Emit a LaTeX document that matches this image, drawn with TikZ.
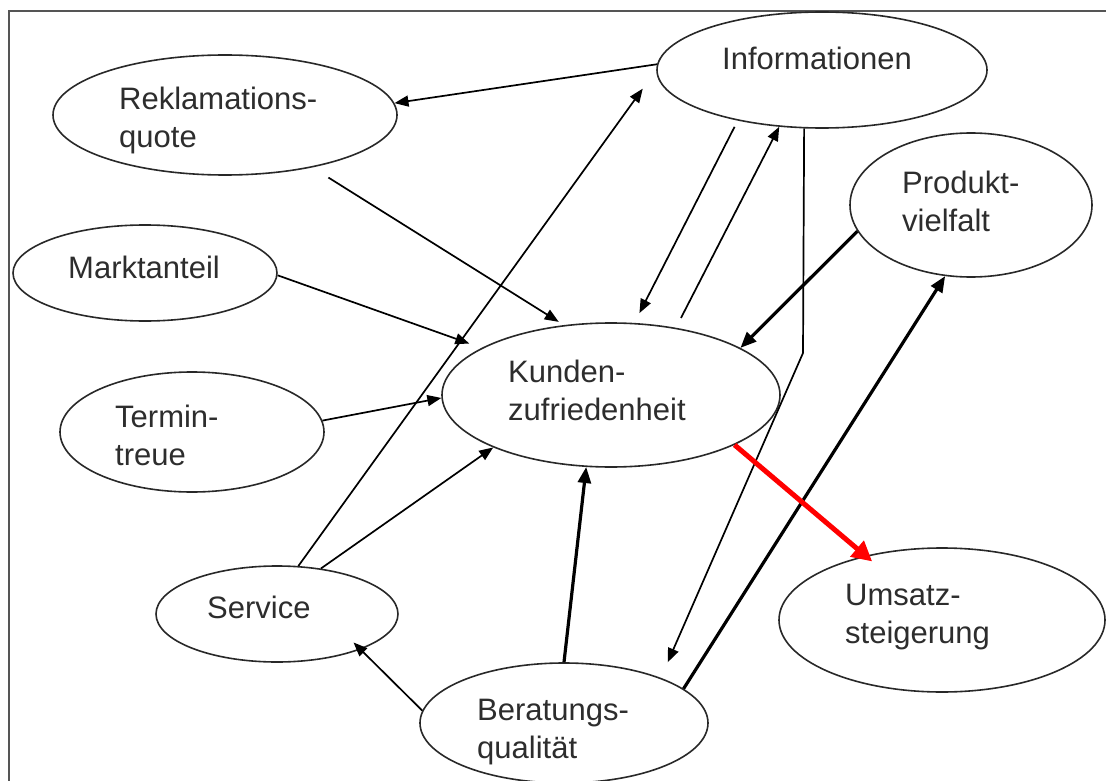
\documentclass[tikz,border=0pt]{standalone}
\usepackage{fontspec}
\setmainfont{Liberation Sans}
\usetikzlibrary{shapes.geometric,arrows.meta}
\definecolor{framegray}{RGB}{85,85,85}
\definecolor{linegray}{RGB}{40,40,40}
\definecolor{txtgray}{RGB}{45,45,45}
\definecolor{arrred}{RGB}{255,0,0}
\begin{document}
\begin{tikzpicture}[x=1pt,y=-1pt,
  ell/.style={draw=linegray, line width=1.6pt, ellipse, inner sep=0pt},
  lbl/.style={anchor=base west, align=left, inner sep=0pt, text=txtgray, font=\fontsize{31}{38}\selectfont},
  conn/.style={draw=black, line width=1.7pt, -{Triangle[length=14pt,width=11pt]}},
  boldconn/.style={draw=black, line width=3.2pt, -{Triangle[length=16pt,width=13pt]}},
  redconn/.style={draw=arrred, line width=5pt, -{Triangle[length=20pt,width=20pt]}}]
\useasboundingbox (0,0) rectangle (1106,781);
\fill[white] (0,0) rectangle (1106,781);
\draw[framegray, line width=2pt] (9,781) -- (9,11) -- (1106,11);

% ellipses
\node[ell, minimum width=330pt, minimum height=116pt] (info)    at (822,70)  {};
\node[ell, minimum width=344pt, minimum height=120pt] (rekl)    at (225,115) {};
\node[ell, minimum width=264pt, minimum height=96pt]  (markt)   at (145,273) {};
\node[ell, minimum width=242pt, minimum height=144pt] (produkt) at (971,205) {};
\node[ell, minimum width=338pt, minimum height=144pt] (kunden)  at (611,395) {};
\node[ell, minimum width=264pt, minimum height=120pt] (termin)  at (192,432) {};
\node[ell, minimum width=242pt, minimum height=96pt]  (service) at (277,614) {};
\node[ell, minimum width=288pt, minimum height=120pt] (berat)   at (564,723) {};
\node[ell, minimum width=326pt, minimum height=144pt] (umsatz)  at (942,620) {};

% texts (base anchor = baseline of the last line)
\node[lbl] (tinfo)  at (722,70)  {Informationen};
\node[lbl] (trekl)  at (119,148) {Reklamations-\\quote};
\node[lbl] (tmarkt) at (68,278)  {Marktanteil};
\node[lbl] (tprod)  at (902,231) {Produkt-\\vielfalt};
\node[lbl] (tkund)  at (508,420) {Kunden-\\zufriedenheit};
\node[lbl] (tterm)  at (115,465) {Termin-\\treue};
\node[lbl] (tserv)  at (207,618) {Service};
\node[lbl] (tber)   at (477,758) {Beratungs-\\qualität};
\node[lbl] (tums)   at (845,643) {Umsatz-\\steigerung};

\coordinate (ibend) at (803,353);

% connectors
\draw[conn] (info.178.6) -- (rekl.4.2);
\draw[conn, shorten <=19pt, shorten >=6pt] (rekl.-31.6) -- (kunden.124);
\draw[conn, shorten >=13pt] (markt.-1.7) -- (kunden.160.9);
\draw[conn] (termin.5.2) -- (kunden.181);
\draw[conn] (service.46) -- (kunden.204);
\draw[conn, shorten >=23pt] (service.66.4) -- (info.180);
\draw[conn, shorten <=7pt, shorten >=11pt] (info.211.4) -- (kunden.72.4);
\draw[conn, shorten <=11pt] (kunden.46.2) -- (info.233.1);
\draw[conn, shorten >=17pt] (info.253.2) -- (ibend) -- (berat.25.8);
\draw[boldconn] (produkt.193.2) -- (kunden.20.9);
\draw[boldconn] (berat.90) -- (kunden.251);
\draw[boldconn] (berat.16.8) -- (produkt.250.9);
\draw[conn, shorten >=-10pt] (berat.175.6) -- (service.-23.2);
\draw[redconn, shorten >=-9pt] (kunden.-22.3) -- (umsatz.140.4);
\end{tikzpicture}
\end{document}
